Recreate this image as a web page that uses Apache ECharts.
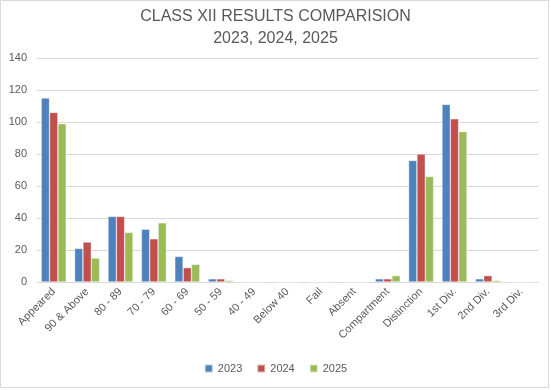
<!DOCTYPE html>
<html><head><meta charset="utf-8">
<script src="https://cdn.jsdelivr.net/npm/echarts@6/dist/echarts.min.js"></script>
<style>html,body{margin:0;padding:0;background:#fff}#c{width:551px;height:390px}</style>
</head><body><div id="c"></div>
<script>
var categories = ['Appeared','90 & Above','80 - 89','70 - 79','60 - 69','50 - 59','40 - 49','Below 40','Fail','Absent','Compartment','Distinction','1st Div.','2nd Div.','3rd Div.'];
var s2023 = [115,21,41,33,16,2,0,0,0,0,2,76,111,2,0];
var s2024 = [106,25,41,27,9,2,0,0,0,0,2,80,102,4,0];
var s2025 = [99,15,31,37,11,1,0,0,0,0,4,66,94,1,0];
var yTicks = {min:0,max:140,interval:20};

var chart = echarts.init(document.getElementById('c'));
var txt = '#595959';
function bar(name, data, color){
  return {name:name,type:'bar',data:data,barGap:'0%',barCategoryGap:'25%',
    itemStyle:{color:color,borderColor:'rgba(255,255,255,0.6)',borderWidth:0.6}};
}
chart.setOption({
  animation:false,
  title:{text:'CLASS XII RESULTS COMPARISION\n2023, 2024, 2025',left:'center',top:1,
    textStyle:{fontFamily:'Liberation Sans, Arial',fontSize:16,fontWeight:'normal',color:txt,lineHeight:22}},
  graphic:[{type:'rect',shape:{x:0.5,y:0.5,width:548,height:387},style:{fill:'none',stroke:'#d9d9d9',lineWidth:1},silent:true}],
  legend:{bottom:11,left:'center',itemWidth:8,itemHeight:8,itemGap:14,icon:'rect',
    textStyle:{fontFamily:'Liberation Sans, Arial',fontSize:11,color:txt}},
  grid:{left:37,right:13,top:58,bottom:108,containLabel:false},
  xAxis:{type:'category',data:categories,
    axisLine:{lineStyle:{color:'#d9d9d9'}},axisTick:{show:false},
    axisLabel:{rotate:45,interval:0,fontFamily:'Liberation Sans, Arial',fontSize:11,color:txt,margin:8}},
  yAxis:{type:'value',min:yTicks.min,max:yTicks.max,interval:yTicks.interval,
    axisLine:{show:false},axisTick:{show:false},
    splitLine:{lineStyle:{color:'#d9d9d9'}},
    axisLabel:{fontFamily:'Liberation Sans, Arial',fontSize:11,color:txt,margin:10}},
  series:[bar('2023',s2023,'#4F81BD'),bar('2024',s2024,'#C0504D'),bar('2025',s2025,'#9BBB59')]
});
</script></body></html>
